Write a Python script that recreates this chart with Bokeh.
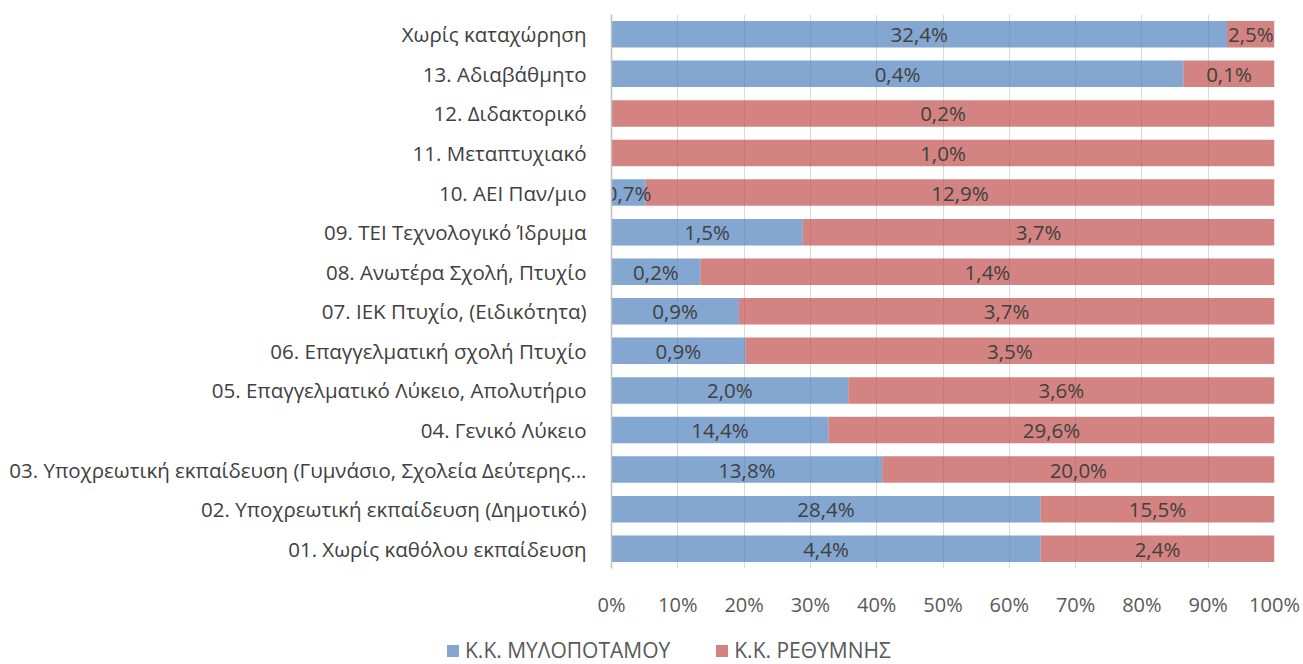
from bokeh.plotting import figure
from bokeh.models import ColumnDataSource, Legend, LegendItem, NumeralTickFormatter, FixedTicker, Range1d
from bokeh.core.properties import value
from bokeh.embed import file_html
from bokeh.resources import INLINE

categories = [
    "01. Χωρίς καθόλου εκπαίδευση",
    "02. Υποχρεωτική εκπαίδευση (Δημοτικό)",
    "03. Υποχρεωτική εκπαίδευση (Γυμνάσιο, Σχολεία Δεύτερης…",
    "04. Γενικό Λύκειο",
    "05. Επαγγελματικό Λύκειο, Απολυτήριο",
    "06. Επαγγελματική σχολή Πτυχίο",
    "07. ΙΕΚ Πτυχίο, (Ειδικότητα)",
    "08. Ανωτέρα Σχολή, Πτυχίο",
    "09. ΤΕΙ Τεχνολογικό Ίδρυμα",
    "10. ΑΕΙ Παν/μιο",
    "11. Μεταπτυχιακό",
    "12. Διδακτορικό",
    "13. Αδιαβάθμητο",
    "Χωρίς καταχώρηση",
]
series_names = ["Κ.Κ. ΜΥΛΟΠΟΤΑΜΟΥ", "Κ.Κ. ΡΕΘΥΜΝΗΣ"]
mylopotamou = [4.4, 28.4, 13.8, 14.4, 2.0, 0.89, 0.88, 0.22, 1.5, 0.7, 0.0, 0.0, 0.44, 32.4]
rethymnis = [2.4, 15.5, 20.0, 29.6, 3.6, 3.52, 3.70, 1.42, 3.7, 12.9, 1.0, 0.2, 0.07, 2.5]
x_ticks = [0, 0.1, 0.2, 0.3, 0.4, 0.5, 0.6, 0.7, 0.8, 0.9, 1.0]

colors = ["#4F81BD", "#C0504D"]
FONT = "Open Sans"
FS = "20.5px"

def fmt(v):
    return f"{v:.1f}".replace(".", ",") + "%"

totals = [a + b for a, b in zip(mylopotamou, rethymnis)]
share_a = [a / t for a, t in zip(mylopotamou, totals)]

src = ColumnDataSource(dict(
    cat=categories,
    zero=[0.0] * len(categories),
    a=share_a,
    one=[1.0] * len(categories),
))

p = figure(
    width=1300, height=620,
    y_range=categories, x_range=Range1d(0, 1),
    output_backend="svg", toolbar_location=None,
    min_border_left=611, min_border_right=26, min_border_top=14, min_border_bottom=50,
)
p.outline_line_color = None
p.background_fill_color = "white"

r1 = p.hbar(y="cat", left="zero", right="a", height=0.67, source=src,
            fill_color=colors[0], fill_alpha=0.7, line_color=None)
r2 = p.hbar(y="cat", left="a", right="one", height=0.67, source=src,
            fill_color=colors[1], fill_alpha=0.7, line_color=None)

# data labels
lx, ly, lt = [], [], []
for c, a, va, vb in zip(categories, share_a, mylopotamou, rethymnis):
    if va > 0:
        lx.append(a / 2); ly.append(c); lt.append(fmt(va))
    if vb > 0:
        lx.append((a + 1) / 2); ly.append(c); lt.append(fmt(vb))
lsrc = ColumnDataSource(dict(x=lx, y=ly, t=lt))
p.text(x="x", y="y", text="t", source=lsrc, text_align="center", text_baseline="middle",
       text_font=value(FONT), text_font_size=FS, text_color="#404040")

p.xaxis.ticker = FixedTicker(ticks=x_ticks)
p.xaxis.formatter = NumeralTickFormatter(format="0%")
p.xaxis.axis_line_color = None
p.xaxis.major_tick_line_color = None
p.xaxis.minor_tick_line_color = None
p.xaxis.major_tick_out = 0
p.xaxis.major_label_standoff = 22
p.xaxis.major_label_text_font = FONT
p.xaxis.major_label_text_font_size = "20px"
p.xaxis.major_label_text_color = "#595959"

p.yaxis.axis_line_color = "#bfbfbf"
p.yaxis.axis_line_width = 1.5
p.yaxis.major_tick_line_color = None
p.yaxis.major_tick_out = 0
p.yaxis.major_label_standoff = 25
p.yaxis.major_label_text_font = FONT
p.yaxis.major_label_text_font_size = FS
p.yaxis.major_label_text_color = "#404040"

p.xgrid.grid_line_color = "#d9d9d9"
p.xgrid.ticker = FixedTicker(ticks=x_ticks)
p.ygrid.grid_line_color = None

# legend strip below the chart (separate root, so its frame is not aligned to the chart)
pl = figure(
    width=1300, height=44, x_range=Range1d(0, 1), y_range=Range1d(0, 1),
    output_backend="svg", toolbar_location=None,
    min_border_left=0, min_border_right=0, min_border_top=0, min_border_bottom=0,
)
pl.axis.visible = False
pl.grid.visible = False
pl.outline_line_color = None
# hidden proxies of the two series, only used to draw the legend swatches
e1 = pl.hbar(y="a", left="zero", right="a", height=0.5, source=src,
             fill_color=colors[0], fill_alpha=0.7, line_color=None, visible=False)
e2 = pl.hbar(y="a", left="a", right="one", height=0.5, source=src,
             fill_color=colors[1], fill_alpha=0.7, line_color=None, visible=False)

legend = Legend(
    items=[LegendItem(label=series_names[0], renderers=[e1]),
           LegendItem(label=series_names[1], renderers=[e2])],
    orientation="horizontal",
    location=(445, 0),
    label_text_font=FONT, label_text_font_size="21px", label_text_color="#595959",
    glyph_width=15, glyph_height=15, label_standoff=5, spacing=44,
    padding=0, margin=0, border_line_color=None, background_fill_alpha=0,
    inactive_fill_alpha=0,
)
pl.add_layout(legend, "center")

open("out.html", "w").write(file_html([p, pl], INLINE))
